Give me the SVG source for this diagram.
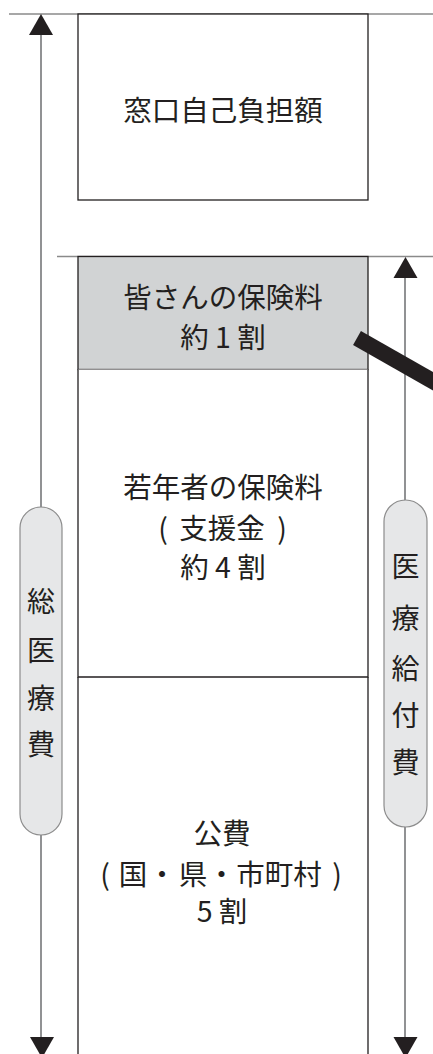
<svg xmlns="http://www.w3.org/2000/svg" width="433" height="1054" viewBox="0 0 433 1054">
<style>
.box{fill:#ffffff;stroke:#231f20;stroke-width:1.3}
.gbox{fill:#d1d3d4;stroke:#231f20;stroke-width:1.3}
.t{font-family:"Noto Sans CJK JP","Noto Sans",sans-serif;font-size:28.5px;fill:#231f20;text-anchor:middle;dominant-baseline:central}
.pt{font-family:"Noto Sans CJK JP","Noto Sans",sans-serif;font-size:28px;fill:#231f20;text-anchor:middle;dominant-baseline:central}
.pill{fill:#e6e7e8;stroke:#8c8c8c;stroke-width:1.2}
.hl{stroke:#8a8a8a;stroke-width:1.5;fill:none}
.vl{stroke:#6d6e71;stroke-width:1.5;fill:none}
.ah{fill:#231f20}
</style>
<rect width="433" height="1054" fill="#ffffff"/>
<g id="connectors">
<line class="hl" x1="9" y1="14" x2="433" y2="14"/>
<line class="hl" x1="57" y1="256.5" x2="433" y2="256.5"/>
<line class="vl" x1="41" y1="30" x2="41" y2="1040"/>
<polygon class="ah" points="41,14 29,35 53,35"/>
<polygon class="ah" points="42,1058 30,1037 54,1037"/>
<line class="vl" x1="405" y1="272" x2="405" y2="1040"/>
<polygon class="ah" points="405.5,257 393.5,278 417.5,278"/>
<polygon class="ah" points="405.5,1058 393.5,1037 417.5,1037"/>
</g>
<g id="node-madoguchi">
<rect class="box" x="78" y="14" width="290" height="186"/>
<text class="t" x="223" y="108">窓口自己負担額</text>
</g>
<g id="node-minasan">
<rect class="gbox" x="78" y="256.5" width="290" height="113"/>
<text class="t" x="223" y="295">皆さんの保険料</text>
<text class="t" x="223" y="335">約 1 割</text>
</g>
<g id="node-jakunen">
<path class="box" d="M78,369.5 V677 H368 V369.5"/>
<text class="t" x="223" y="485">若年者の保険料</text>
<text class="t" y="526"><tspan x="163">(</tspan><tspan x="222">支援金</tspan><tspan x="282">)</tspan></text>
<text class="t" x="223" y="565">約 4 割</text>
</g>
<g id="node-kouhi">
<path class="box" d="M78,677 V1054 M368,677 V1054"/>
<text class="t" x="222" y="831">公費</text>
<text class="t" y="872"><tspan x="105">(</tspan><tspan x="133">国</tspan><tspan x="162">・</tspan><tspan x="193">県</tspan><tspan x="221.5">・</tspan><tspan x="279">市町村</tspan><tspan x="337">)</tspan></text>
<text class="t" x="222" y="909">5 割</text>
</g>
<g id="node-souiryouhi">
<rect class="pill" x="20" y="507" width="42" height="328" rx="21" ry="21"/>
<text class="pt" x="41" y="600">総</text>
<text class="pt" x="41" y="649">医</text>
<text class="pt" x="41" y="697">療</text>
<text class="pt" x="41" y="743">費</text>
</g>
<g id="node-iryoukyuufuhi">
<rect class="pill" x="384" y="500" width="43" height="327" rx="21.5" ry="21.5"/>
<text class="pt" x="405.5" y="565">医</text>
<text class="pt" x="405.5" y="617">療</text>
<text class="pt" x="405.5" y="667">給</text>
<text class="pt" x="405.5" y="714">付</text>
<text class="pt" x="405.5" y="761">費</text>
</g>
<g id="pointer">
<line x1="357" y1="338" x2="445" y2="388" stroke="#231f20" stroke-width="16"/>
</g>
</svg>
